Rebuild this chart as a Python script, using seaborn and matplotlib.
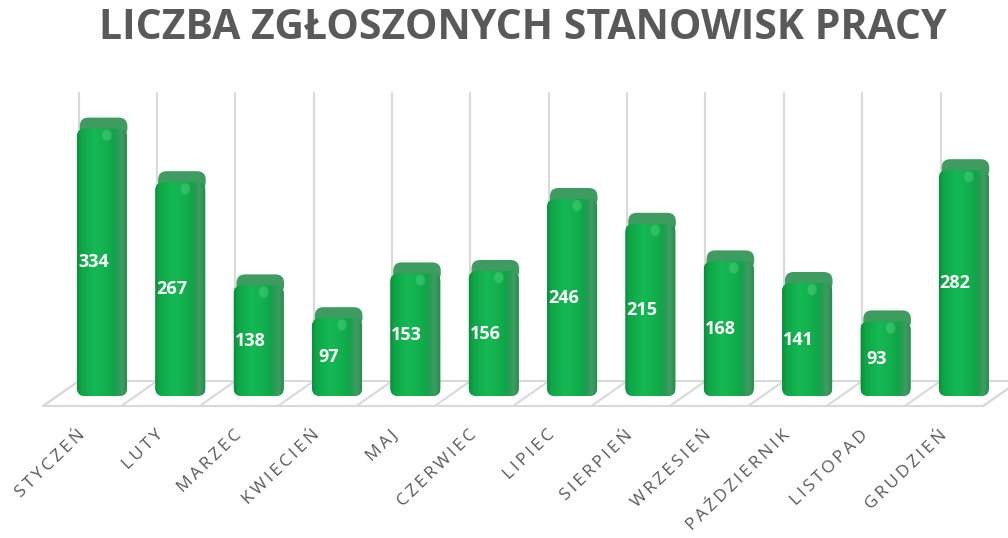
import matplotlib
matplotlib.use('Agg')
import matplotlib.pyplot as plt
import numpy as np
import pandas as pd
import seaborn as sns
from matplotlib.patches import FancyBboxPatch, Polygon, Ellipse
from matplotlib.colors import LinearSegmentedColormap

# data
months = ['STYCZEŃ', 'LUTY', 'MARZEC', 'KWIECIEŃ', 'MAJ', 'CZERWIEC',
          'LIPIEC', 'SIERPIEŃ', 'WRZESIEŃ', 'PAŹDZIERNIK', 'LISTOPAD', 'GRUDZIEŃ']
values = [334, 267, 138, 97, 153, 156, 246, 215, 168, 141, 93, 282]
title = 'LICZBA ZGŁOSZONYCH STANOWISK PRACY'

sns.set_theme(style='white')
plt.rcParams['font.family'] = ['Open Sans', 'DejaVu Sans']

df = pd.DataFrame({'month': months, 'value': values})

fig = plt.figure(figsize=(10.08, 5.38), dpi=100)
ax = fig.add_axes([0, 118 / 538, 1, 340 / 538])

sns.barplot(data=df, x='month', y='value', color='#12a84a', width=0.638,
            ax=ax, zorder=3)

xlim = (-1.302, 11.563)
ylim = (-30, 395)
ma = 78.35 / 0.8  # data aspect, keeps rounded corners round

# shading across the bar face: front then darker side
cmap = LinearSegmentedColormap.from_list('bar', [
    (0.0, '#0a8d3d'), (0.08, '#0ea546'), (0.35, '#15b953'), (0.55, '#13b24f'),
    (0.74, '#0fa548'), (0.80, '#2a9a57'), (0.9, '#3b9f60'), (1.0, '#2c8b4f')])
grad = np.linspace(0, 1, 200)[None, :]

for p in list(ax.patches):
    x0, w, h = p.get_x(), p.get_width(), p.get_height()
    p.set_visible(False)
    cap = FancyBboxPatch((x0 + 0.035, h - 10), w - 0.03, 24,
                         boxstyle='round,pad=0,rounding_size=0.11',
                         mutation_aspect=ma, fc='#3f9c60', ec='none', zorder=3)
    ax.add_patch(cap)
    front = FancyBboxPatch((x0, 0), w, h,
                           boxstyle='round,pad=0,rounding_size=0.1',
                           mutation_aspect=ma, fc='#12a84a', ec='none', zorder=4)
    ax.add_patch(front)
    im = ax.imshow(grad, extent=[x0, x0 + w, 0, h], cmap=cmap, aspect='auto',
                   interpolation='bicubic', zorder=4.5)
    im.set_clip_path(front)
    ax.add_patch(Ellipse((x0 + 0.6 * w, h - 8), 0.12, 14, fc='#8af0b2',
                         ec='none', alpha=0.25, zorder=5))

# floor and back gridlines
front_y, back_y, shift = -12.5, 18.75, 0.455
fl = -0.753
fr = fl + 12
ax.add_patch(Polygon([(fl, front_y), (fr, front_y), (fr + shift, back_y), (fl + shift, back_y)],
                     closed=True, fc='white', ec='#d9d9d9', lw=1.5, zorder=1))
for i in range(13):
    bx = fl + i
    ax.plot([bx, bx + shift], [front_y, back_y], color='#d9d9d9', lw=1.5, zorder=1.5)
    ax.plot([bx + shift, bx + shift], [back_y, 379], color='#d9d9d9', lw=1.5, zorder=1.5)

# value labels
for i, v in enumerate(values):
    ax.text(i - 0.11, v / 2, str(v), ha='center', va='center', color='white',
            fontsize=13, fontweight='bold', zorder=6)

spaced = ['\u2009'.join(m) for m in months]
ax.set_xticks([i - 0.32 for i in range(len(months))])
ax.set_xticklabels(spaced, rotation=44, ha='right', va='top', rotation_mode='anchor',
                   fontsize=12.5, color='#595959')
ax.tick_params(axis='x', length=0, pad=5)
ax.set_yticks([])
ax.set_xlabel('')
ax.set_ylabel('')
for s in ax.spines.values():
    s.set_visible(False)
ax.set_xlim(*xlim)
ax.set_ylim(*ylim)

fig.text(0.519, 1 - 8 / 538, title, ha='center', va='top',
         fontsize=29.5, fontweight='bold', color='#595959')

fig.savefig('out.png', dpi=100)
